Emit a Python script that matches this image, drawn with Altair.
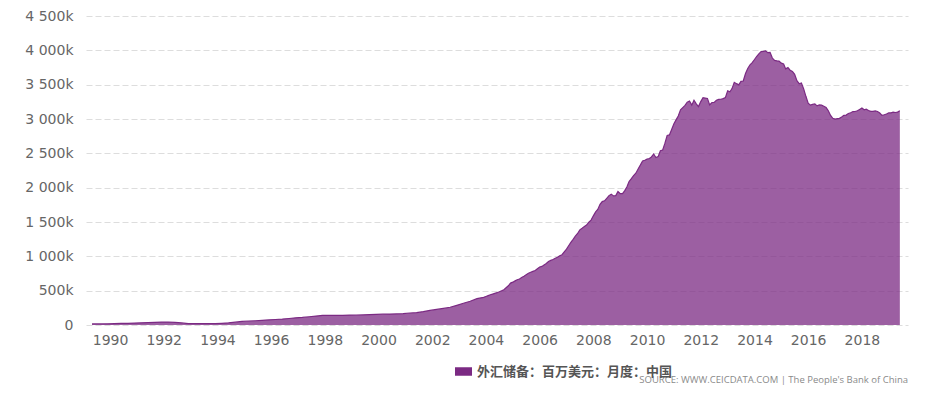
import altair as alt
import pandas as pd

# Early period: quarterly (millions USD)
early_dates = [
    "1989-05-01", "1989-09-01", "1989-12-01",
    "1990-03-01", "1990-06-01", "1990-09-01", "1990-12-01",
    "1991-03-01", "1991-06-01", "1991-09-01", "1991-12-01",
    "1992-03-01", "1992-06-01", "1992-09-01", "1992-12-01",
    "1993-03-01", "1993-06-01", "1993-09-01", "1993-12-01",
    "1994-03-01", "1994-06-01", "1994-09-01", "1994-12-01",
    "1995-03-01", "1995-06-01", "1995-09-01", "1995-12-01",
    "1996-03-01", "1996-06-01", "1996-09-01", "1996-12-01",
    "1997-03-01", "1997-06-01", "1997-09-01", "1997-12-01",
    "1998-03-01", "1998-06-01", "1998-09-01", "1998-12-01",
    "1999-03-01", "1999-06-01", "1999-09-01", "1999-12-01",
    "2000-03-01", "2000-06-01", "2000-09-01", "2000-12-01",
    "2001-03-01", "2001-06-01", "2001-09-01", "2001-12-01",
    "2002-03-01", "2002-06-01", "2002-09-01", "2002-12-01",
    "2003-03-01", "2003-06-01", "2003-09-01", "2003-12-01",
]
early_values = [
    16000, 15500, 17022,
    19000, 23000, 25000, 28594,
    32000, 35000, 39000, 42664,
    43000, 38000, 30000, 19443,
    19500, 19000, 19500, 21199,
    25000, 31000, 41000, 51620,
    58000, 62000, 68000, 73597,
    80000, 86000, 95000, 105029,
    110000, 120000, 130000, 139890,
    140000, 140500, 141000, 144959,
    146000, 147000, 150000, 154675,
    157000, 158600, 162000, 165574,
    175000, 180000, 195000, 212165,
    227000, 242000, 258000, 286407,
    316000, 346500, 383800, 403251,
]

# Later period: monthly, Jan 2004 .. Jun 2019 (billions USD, converted below)
late_start = "2004-01-01"
late_values_bn = [
    415.7, 428.3, 439.8, 450.3, 460.5, 470.6, 483.4, 498.0, 514.5, 542.4, 570.5, 609.9,
    623.6, 642.6, 659.1, 670.1, 691.0, 711.0, 732.7, 753.3, 769.0, 781.6, 793.7, 818.9,
    845.2, 853.7, 875.1, 895.0, 925.0, 941.1, 954.5, 971.6, 987.9, 1009.6, 1023.8, 1066.3,
    1104.7, 1158.2, 1202.0, 1246.6, 1292.7, 1332.6, 1385.2, 1408.6, 1433.6, 1454.9, 1497.0, 1528.2,
    1589.8, 1647.1, 1682.2, 1756.7, 1797.0, 1808.8, 1845.2, 1884.2, 1905.6, 1879.7, 1884.7, 1946.0,
    1913.5, 1912.1, 1953.7, 2008.9, 2089.5, 2131.6, 2174.8, 2210.8, 2272.6, 2327.9, 2388.8, 2399.2,
    2415.2, 2424.6, 2447.1, 2490.5, 2439.5, 2454.3, 2538.9, 2547.8, 2648.3, 2760.9, 2767.8, 2847.3,
    2931.7, 2991.4, 3044.7, 3134.5, 3166.4, 3197.5, 3245.3, 3262.5, 3201.7, 3273.8, 3220.5, 3181.1,
    3253.6, 3309.6, 3305.0, 3299.8, 3206.1, 3240.0, 3240.0, 3272.8, 3285.1, 3287.4, 3297.4, 3311.6,
    3410.0, 3395.4, 3442.6, 3534.5, 3514.8, 3496.7, 3547.8, 3553.0, 3662.7, 3736.6, 3789.5, 3821.3,
    3866.6, 3913.7, 3948.1, 3980.9, 3983.9, 3993.2, 3966.3, 3968.8, 3887.7, 3852.9, 3847.3, 3843.0,
    3813.4, 3801.5, 3730.0, 3748.1, 3711.1, 3693.8, 3651.3, 3557.4, 3514.1, 3525.5, 3438.3, 3330.4,
    3230.9, 3202.3, 3212.6, 3219.7, 3191.7, 3205.2, 3201.1, 3185.2, 3166.4, 3120.7, 3051.6, 3010.5,
    2998.2, 3005.1, 3009.1, 3029.5, 3053.6, 3056.8, 3080.7, 3091.5, 3108.5, 3109.2, 3119.3, 3139.9,
    3161.5, 3134.5, 3142.8, 3124.9, 3110.6, 3112.1, 3117.9, 3109.7, 3087.0, 3053.1, 3061.7, 3072.7,
    3087.9, 3090.2, 3098.8, 3094.9, 3101.0, 3119.2,
]

series_name = "外汇储备：百万美元：月度：中国"
source_text = "SOURCE: WWW.CEICDATA.COM | The People's Bank of China"
x_tick_years = list(range(1990, 2020, 2))
y_tick_values = list(range(0, 4500001, 500000))

late_dates = pd.date_range(late_start, periods=len(late_values_bn), freq="MS").strftime("%Y-%m-%d").tolist()
df = pd.DataFrame({
    "date": early_dates + late_dates,
    "value": early_values + [round(v * 1000) for v in late_values_bn],
    "series": series_name,
})

base_color = "#7b2a83"
W, H = 822, 309

area = alt.Chart(df).mark_area(
    fillOpacity=0.75,
    line={"strokeWidth": 1.2},
    interpolate="linear",
).encode(
    x=alt.X(
        "date:T",
        scale=alt.Scale(type="utc", domain=["1989-02-08", "2019-09-20"]),
        axis=alt.Axis(
            values=[alt.DateTime(year=y, month=1, date=1, utc=True) for y in x_tick_years],
            format="%Y", formatType="utc",
            grid=False, ticks=False, domain=False,
            labelFont="DejaVu Sans", labelFontSize=14, labelColor="#666666",
            labelPadding=8, title=None,
        ),
    ),
    y=alt.Y(
        "value:Q",
        scale=alt.Scale(domain=[0, 4500000], nice=False),
        axis=alt.Axis(
            values=y_tick_values,
            labelExpr="datum.value == 0 ? '0' : replace(format(datum.value / 1000, ','), ',', ' ') + 'k'",
            grid=True, gridDash=[6, 3], gridColor="#dddddd", gridWidth=1,
            ticks=False, domain=False,
            labelFont="DejaVu Sans", labelFontSize=14, labelColor="#666666",
            labelPadding=13, title=None,
        ),
    ),
    color=alt.Color(
        "series:N",
        scale=alt.Scale(range=[base_color]),
        legend=alt.Legend(
            orient="none", legendX=369, legendY=347, title=None,
            symbolType="M-1,-0.5L1,-0.5L1,0.5L-1,0.5Z", symbolSize=289,
            symbolOpacity=1, symbolFillColor=base_color, symbolStrokeWidth=0,
            labelFont="Noto Sans CJK SC", labelFontSize=13, labelColor="#555555",
            labelFontWeight="bold", labelOffset=5, labelLimit=0,
        ),
    ),
)

src = alt.Chart(pd.DataFrame({"t": [source_text]})).mark_text(
    align="right", baseline="middle", font="Open Sans", fontSize=9.5, color="#8a8a8a"
).encode(
    text="t:N", x=alt.value(W), y=alt.value(364)
)

chart = alt.layer(area, src).properties(
    width=W, height=H,
    autosize=alt.AutoSizeParams(type="none"),
    padding={"left": 78, "top": 8, "right": 23, "bottom": 60},
).configure_view(stroke=None)

chart.save("out.html", embed_options={"renderer": "svg", "actions": False})
